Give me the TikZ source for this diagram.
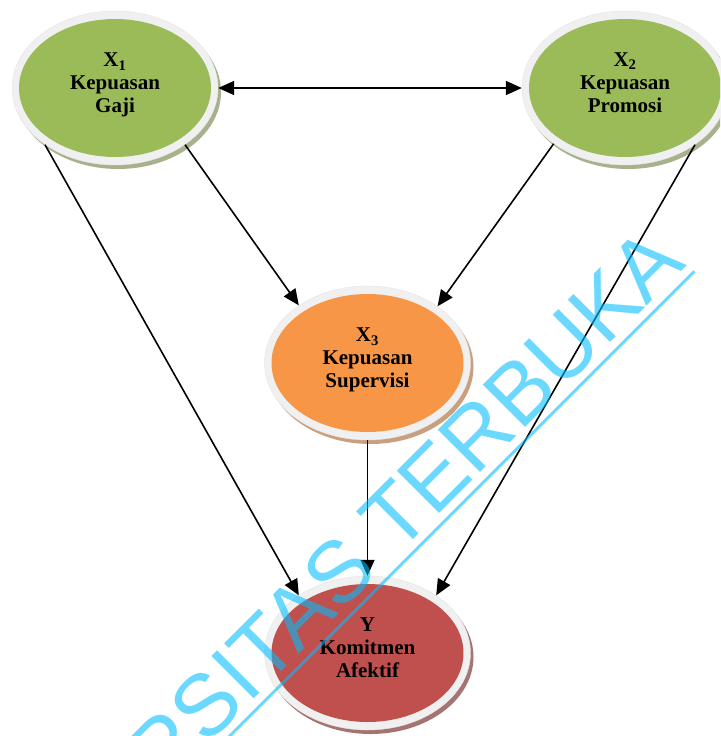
\documentclass[tikz,border=0pt]{standalone}
\usepackage{fontspec}
\setmainfont{Liberation Serif}
\newfontfamily\wmfont{Liberation Sans}
\usetikzlibrary{arrows.meta,shapes.geometric,calc}

\definecolor{greenfill}{HTML}{9BBB59}
\definecolor{greenshade}{HTML}{A7B18C}
\definecolor{orangefill}{HTML}{F79646}
\definecolor{orangeshade}{HTML}{C9A07F}
\definecolor{redfill}{HTML}{C0504D}
\definecolor{redshade}{HTML}{A67373}
\definecolor{rimcol}{HTML}{F0F0F0}
\definecolor{wmcol}{RGB}{0,190,255}

\begin{document}
\begin{tikzpicture}[x=1pt,y=-1pt,
  shade/.style={ellipse, inner sep=0pt, minimum width=206pt, minimum height=154pt},
  rim/.style={ellipse, inner sep=0pt, minimum width=206pt, minimum height=154pt,
              fill=rimcol, draw=black!10, line width=0.4pt},
  core/.style={ellipse, inner sep=0pt, minimum width=192pt, minimum height=138pt},
  lbl/.style={align=center, inner sep=0pt,
              font=\fontsize{21}{23}\selectfont\bfseries},
  link/.style={line width=1.6pt, -{Triangle[length=16pt,width=14pt]}},
  dlink/.style={line width=1.6pt, {Triangle[length=16pt,width=14pt]}-{Triangle[length=16pt,width=14pt]}},
  wm/.style={inner sep=0pt, text=wmcol, text opacity=0.58,
             font=\wmfont\fontsize{87}{87}\selectfont},
]
\useasboundingbox (0,0) rectangle (720,736);
\clip (0,0) rectangle (720,736);

% centres of the four constructs
\coordinate (c1) at (115,88);
\coordinate (c2) at (625,88);
\coordinate (c3) at (367.5,363);
\coordinate (c4) at (367.5,653);

% drop shadows
\node[shade, fill=greenshade]  at ($(c1)+(3,4)$) {};
\node[shade, fill=greenshade]  at ($(c2)+(3,4)$) {};
\node[shade, fill=orangeshade] at ($(c3)+(3,4)$) {};
\node[shade, fill=redshade]    at ($(c4)+(3,4)$) {};

% white rims (named, used by the connectors)
\node[rim] (x1) at (c1) {};
\node[rim] (x2) at (c2) {};
\node[rim] (x3) at (c3) {};
\node[rim] (y)  at (c4) {};

% coloured discs
\node[core, fill=greenfill]  at (c1) {};
\node[core, fill=greenfill]  at (c2) {};
\node[core, fill=orangefill] at (c3) {};
\node[core, fill=redfill]    at (c4) {};

% labels
\node[lbl] (t1) at (115,85.25) {X\textsubscript{1}\\Kepuasan\\Gaji};
\node[lbl] (t2) at (625,83) {X\textsubscript{2}\\Kepuasan\\Promosi};
\node[lbl] (t3) at (367.5,360.25) {X\textsubscript{3}\\Kepuasan\\Supervisi};
\node[lbl] (t4) at (367.5,648) {Y\\Komitmen\\Afektif};

% paths
\draw[dlink] (x1.0) -- (x2.180);
\draw[link] (x1.-39) -- (x3.140.6);
\draw[link] (x2.-142) -- (x3.39.4);
\draw[link] (x1.-141.8) -- (y.140);
\draw[link] (x2.-39.5) -- (y.40);
\draw[link] (x3.south) -- (y.north);

% watermark
\node[wm, rotate=45, anchor=base east] (wm) at (688,265) {UNIVERSITAS TERBUKA};
\draw[wmcol, opacity=0.58, line width=3pt]
  ($(wm.base west)+(6.4,6.4)$) -- ($(wm.base east)+(6.4,6.4)$);
\end{tikzpicture}
\end{document}
